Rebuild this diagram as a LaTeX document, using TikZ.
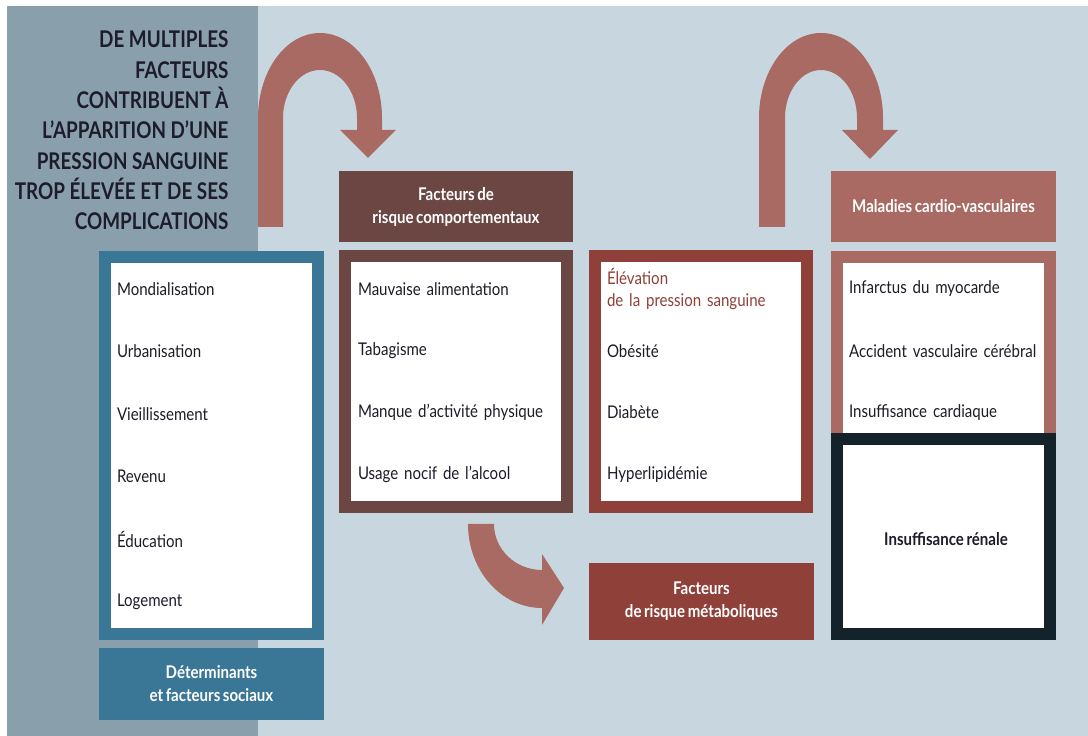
\documentclass[tikz,border=0pt]{standalone}
\usepackage{fontspec}
\setmainfont{Lato}[FakeStretch=0.86,WordSpace=0.7]
\newfontfamily\titlefont{Lato}[FakeStretch=0.82]
\usepackage{tikz}
\usetikzlibrary{arrows}

\definecolor{bgdark}{HTML}{8A9FAC}
\definecolor{bglight}{HTML}{C8D7DF}
\definecolor{socblue}{HTML}{3A7796}
\definecolor{compbrown}{HTML}{6B4643}
\definecolor{metared}{HTML}{8F4038}
\definecolor{cardpink}{HTML}{A86A63}
\definecolor{renaldark}{HTML}{13222B}
\definecolor{itemtext}{HTML}{1C1C2A}

\begin{document}
\begin{tikzpicture}[x=1pt,y=1pt,node distance=61.7pt,
  item node/.style={text width=200pt,inner sep=0pt,align=left,text=itemtext,font=\fontsize{17.5}{22}\selectfont},
  frame node/.style={draw,fill=white,line width=12pt,inner sep=0pt,outer sep=0pt},
  head node/.style={inner sep=0pt,text=white,align=center,font=\fontsize{17.5}{23}\selectfont\bfseries}]
  \useasboundingbox (0,0) rectangle (1088,736);

  % background
  \fill[white] (0,0) rectangle (1088,736);
  \fill[bglight] (7,0) rectangle (1088,730);
  \fill[bgdark] (7,0) rectangle (258,730);

  \node[anchor=east,align=right,text=itemtext,font=\titlefont\fontsize{23}{30.3}\selectfont\bfseries] (title) at (232,605.5)
    {DE MULTIPLES\\FACTEURS\\CONTRIBUENT À\\L’APPARITION D’UNE\\PRESSION SANGUINE\\TROP ÉLEVÉE ET DE SES\\COMPLICATIONS};

  % big arrows
  \fill[cardpink] (258,509) -- (258,618) arc[start angle=180,end angle=0,x radius=62,y radius=85]
    -- (382,606) -- (396,606) -- (368,578) -- (340,606) -- (357,606) -- (357,618)
    arc[start angle=0,end angle=180,x radius=37,y radius=48] -- (283,509) -- cycle;
  \fill[cardpink] (759,509) -- (759,618) arc[start angle=180,end angle=0,x radius=62,y radius=85]
    -- (883,606) -- (898,606) -- (870,577) -- (842,606) -- (857,606) -- (857,618)
    arc[start angle=0,end angle=180,x radius=36,y radius=48] -- (785,509) -- cycle;
  \fill[cardpink] (468,212) arc[start angle=180,end angle=270,x radius=74,y radius=84]
    -- (542,111) -- (564,148) -- (542,182) -- (542,166)
    arc[start angle=270,end angle=180,x radius=48,y radius=46] -- (494,212) -- cycle;

  % frames
  \node[frame node,draw=socblue,minimum width=213pt,minimum height=377pt] (soc) at (211.5,290.5) {};
  \node[frame node,draw=compbrown,minimum width=222pt,minimum height=251pt] (comp) at (456,354.5) {};
  \node[frame node,draw=metared,minimum width=212pt,minimum height=251pt] (meta) at (701,354.5) {};
  \node[frame node,draw=cardpink,minimum width=213pt,minimum height=189pt] (card) at (943.5,384.5) {};
  \node[frame node,draw=renaldark,minimum width=213pt,minimum height=195pt] (renal) at (943.5,199.5) {};

  % headers
  \node[head node,fill=compbrown,minimum width=234pt,minimum height=71pt] (comphead) at (456,529.5) {Facteurs de\\risque comportementaux};
  \node[head node,fill=cardpink,minimum width=225pt,minimum height=71pt] (cardhead) at (943.5,529.5) {Maladies cardio-vasculaires};
  \node[head node,fill=socblue,minimum width=225pt,minimum height=72pt] (sochead) at (211.5,52) {Déterminants\\et facteurs sociaux};
  \node[head node,fill=metared,minimum width=225pt,minimum height=77pt] (metahead) at (701.5,134.5) {Facteurs\\de risque métaboliques};

  % social determinants
  \begin{scope}[node distance=62.6pt]
  \node[item node] (s1) at (217,447) {Mondialisation};
  \node[item node] (s2) [below of=s1] {Urbanisation};
  \node[item node] (s3) [below of=s2] {Vieillissement};
  \node[item node] (s4) [below of=s3] {Revenu};
  \node[item node] (s5) [below of=s4] {Éducation};
  \node[item node] (s6) [below of=s5] {Logement};
  \end{scope}

  % behaviour
  \node[item node] (c1) at (458,447) {Mauvaise alimentation};
  \node[item node] (c2) [below of=c1] {Tabagisme};
  \node[item node] (c3) [below of=c2] {Manque d'activité physique};
  \node[item node] (c4) [below of=c3] {Usage nocif de l'alcool};

  % metabolic
  \node[item node,text=metared] (m1) at (707,447) {Élévation\\de la pression sanguine};
  \node[item node] (m2) [below of=m1] {Obésité};
  \node[item node] (m3) [below of=m2] {Diabète};
  \node[item node] (m4) [below of=m3] {Hyperlipidémie};

  % cardio
  \node[item node] (d1) at (949,447) {Infarctus du myocarde};
  \node[item node] (d2) [below of=d1] {Accident vasculaire cérébral};
  \node[item node] (d3) [below of=d2] {Insuffisance cardiaque};

  \node[text=itemtext,font=\fontsize{17.5}{22}\selectfont\bfseries] (r1) at (946,197) {Insuffisance rénale};
\end{tikzpicture}
\end{document}
